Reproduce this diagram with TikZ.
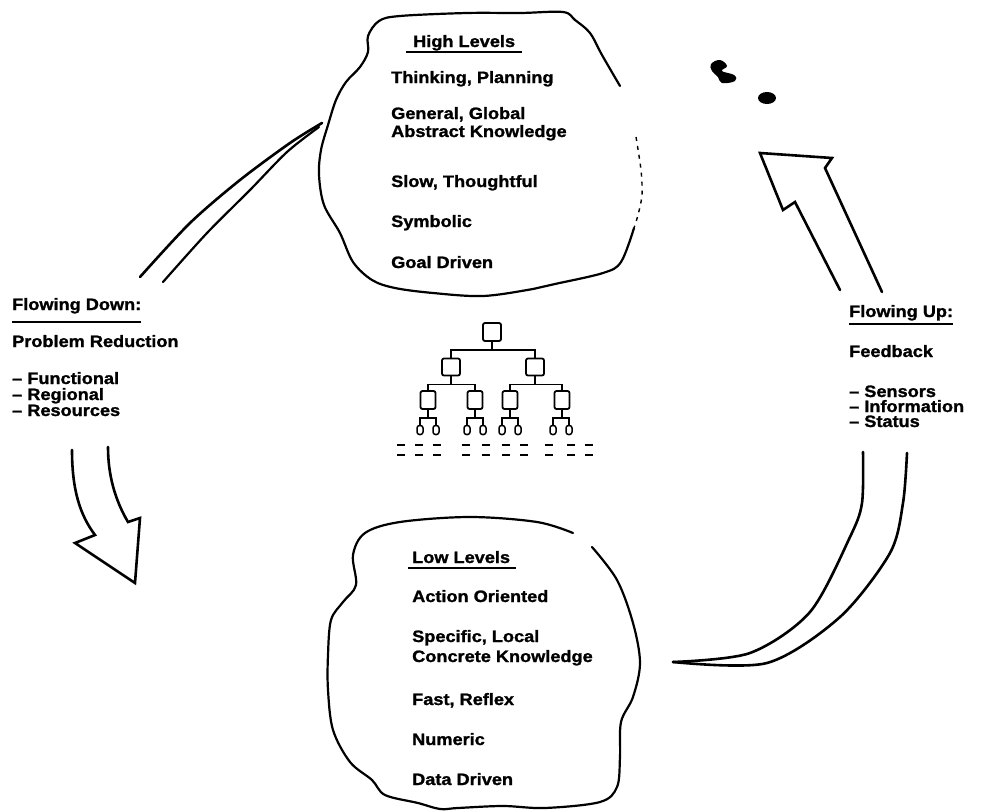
\documentclass[tikz,border=0pt]{standalone}
\usepackage{fontspec}
\setmainfont{Liberation Sans}[FakeStretch=1.1,BoldFeatures={FakeBold=1.3}]
\begin{document}
\begin{tikzpicture}[x=1pt,y=-1pt,
    lbl/.style={anchor=base west,inner sep=0pt,font=\bfseries\fontsize{16.5}{18}\selectfont},
    uline/.style={line width=1.6pt},
    cloudline/.style={line width=2.2pt,line join=round,line cap=round},
    arrowline/.style={line width=2.6pt,line join=miter,line cap=round},
    treebox/.style={draw,line width=1.8pt,rounded corners=2pt,minimum width=18pt,minimum height=18pt,inner sep=0pt},
    leaf/.style={draw,line width=1.5pt,rounded corners=2.5pt,minimum width=6pt,minimum height=9pt,inner sep=0pt},
    treeline/.style={line width=1.8pt},
    dashmark/.style={line width=1.8pt}]
    \useasboundingbox (0,0) rectangle (986,811);

    % high level cloud
    \draw[cloudline] plot[smooth,tension=0.55] coordinates {(634,228) (621,262) (603,273) (555,284) (533,289) (483,296) (433,293) (395,288) (372,280) (353,262) (340,233) (324,205) (319,175) (321,150) (328,125) (336,100) (346,82) (360,67) (368,52) (368,36) (379,21) (400,16) (467,13) (520,13) (563,12) (575,20) (590,33) (602,55) (620,86)};
    \draw[line width=1.4pt,dash pattern=on 4pt off 5pt] plot[smooth] coordinates {(636,137) (641,170) (642,195) (638,215) (634,228)};
    \node[lbl] (hl) at (413,47) {High Levels};
    \draw[uline] ([xshift=-7pt,yshift=-5pt]hl.base west) -- ([xshift=7pt,yshift=-5pt]hl.base east);
    \node[lbl] (t1) at (391,83) {Thinking, Planning};
    \node[lbl] (t2) at (391,119) {General, Global};
    \node[lbl] (t2b) at (391,137) {Abstract Knowledge};
    \node[lbl] (t3) at (391,187) {Slow, Thoughtful};
    \node[lbl] (t4) at (391,227) {Symbolic};
    \node[lbl] (t5) at (391,268) {Goal Driven};

    % low level cloud
    \draw[cloudline] plot[smooth,tension=0.55] coordinates {(592,547) (617,580) (633,623) (640,663) (633,697) (621,722) (620,757) (617,787) (600,802) (545,808) (503,806) (458,808) (440,809) (418,803) (385,795) (372,780) (350,762) (333,730) (328,690) (328,655) (331,620) (343,602) (356,585) (353,555) (365,533) (400,522) (470,517) (537,522) (573,533)};
    \node[lbl] (ll) at (412,563) {Low Levels};
    \draw[uline] ([xshift=-4pt,yshift=-5pt]ll.base west) -- ([xshift=6pt,yshift=-5pt]ll.base east);
    \node[lbl] (b1) at (412,602) {Action Oriented};
    \node[lbl] (b2) at (412,642) {Specific, Local};
    \node[lbl] (b2b) at (412,662) {Concrete Knowledge};
    \node[lbl] (b3) at (412,705) {Fast, Reflex};
    \node[lbl] (b4) at (412,745) {Numeric};
    \node[lbl] (b5) at (412,785) {Data Driven};

    % flowing down
    \node[lbl] (fd) at (12,310) {Flowing Down:};
    \draw[uline] ([yshift=-12pt]fd.base west) -- ([yshift=-12pt]fd.base east);
    \node[lbl] (pr) at (12,347) {Problem Reduction};
    \node[lbl] (d1) at (12,384) {\textendash\ Functional};
    \node[lbl] (d2) at (12,400) {\textendash\ Regional};
    \node[lbl] (d3) at (12,416) {\textendash\ Resources};

    % flowing up
    \node[lbl] (fu) at (849,317) {Flowing Up:};
    \draw[uline] ([yshift=-7pt]fu.base west) -- ([yshift=-7pt]fu.base east);
    \node[lbl] (fb) at (849,357) {Feedback};
    \node[lbl] (u1) at (849,397) {\textendash\ Sensors};
    \node[lbl] (u2) at (849,412) {\textendash\ Information};
    \node[lbl] (u3) at (849,427) {\textendash\ Status};

    % arrows
    \draw[arrowline] plot[smooth] coordinates {(140,277) (190,223) (240,180) (290,143) (322,123)};
    \draw[arrowline,line width=2.2pt] plot[smooth] coordinates {(163,282) (207,233) (250,190) (287,152) (319,127)};
    \draw[arrowline] (72,450) .. controls (72,490) and (80,515) .. (95,535) -- (75,543) -- (135,583) -- (140,518) -- (128,522) .. controls (115,500) and (108,475) .. (108,447);
    \draw[arrowline] plot[smooth] coordinates {(673,662) (750,653) (810,612) (850,537) (862,503) (863,452)};
    \draw[arrowline] plot[smooth] coordinates {(673,662) (767,663) (840,617) (890,553) (903,503) (907,453)};
    \draw[arrowline] (840,290) -- (795,202) -- (783,210) -- (760,153) -- (832,158) -- (825,168) -- (882,292);

    % blots
    \fill plot[smooth cycle,tension=0.7] coordinates {(711,64) (720,60) (727,66) (722,71) (734,75) (735,81) (722,83) (718,77) (712,71)};
    \fill (767,98) ellipse [x radius=9pt,y radius=6pt];

    % hierarchy
    \node[treebox] (r) at (492,332) {};
    \node[treebox,minimum height=17pt] (a) at (451,367) {};
    \node[treebox,minimum height=17pt] (b) at (535,367) {};
    \node[treebox,minimum width=15pt] (aa) at (428,400) {};
    \node[treebox,minimum width=15pt] (ab) at (475,400) {};
    \node[treebox,minimum width=15pt] (ba) at (510,400) {};
    \node[treebox,minimum width=15pt] (bb) at (562,400) {};
    \foreach \p/\x in {aa/420,ab/467,ba/502,bb/553} {
        \node[leaf] (\p1) at (\x,430) {};
        \node[leaf] (\p2) at (\x+16,430) {};
    }
    \foreach \p/\c/\d in {r/a/b, a/aa/ab, b/ba/bb}
        \draw[treeline] (\p.south) -- ++(0,8) coordinate (j) (\c.north) |- (j) -| (\d.north);
    \foreach \p in {aa,ab,ba,bb}
        \draw[treeline] (\p.south) -- ++(0,8) coordinate (j) (\p1.north) |- (j) -| (\p2.north);
    \foreach \x in {397,415,433,462,482,502,520,545,567,585}
        \foreach \y in {445,455}
            \draw[dashmark] (\x,\y) -- ++(8,0);
\end{tikzpicture}
\end{document}
